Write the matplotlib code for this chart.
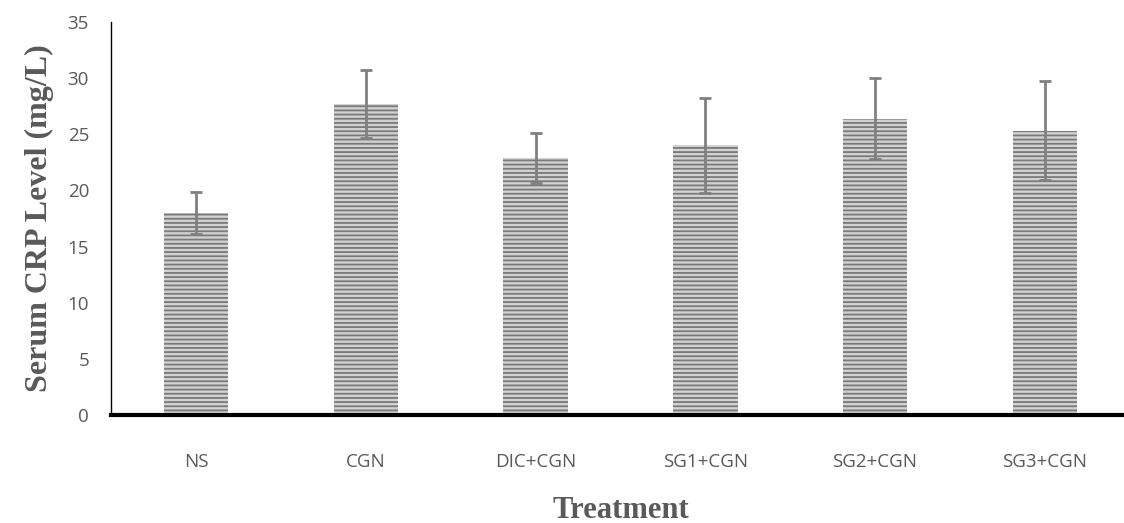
import matplotlib.pyplot as plt
import numpy as np

# values
groups = ['NS', 'CGN', 'DIC+CGN', 'SG1+CGN', 'SG2+CGN', 'SG3+CGN']
crp_mean = [18.0, 27.7, 22.9, 24.0, 26.4, 25.3]
crp_err = [1.9, 3.0, 2.2, 4.2, 3.6, 4.4]

plt.rcParams['hatch.linewidth'] = 1.3

fig = plt.figure(figsize=(11.24, 5.23), dpi=100)
ax = fig.add_axes([0.099, 0.2065, 0.906, 0.7515])

x = np.arange(len(groups))
ax.bar(x, crp_mean, width=0.38, color='#d2d2d2', hatch='----',
       edgecolor='#7a7a7a', linewidth=0)
ax.errorbar(x, crp_mean, yerr=crp_err, fmt='none', ecolor='#808080',
            elinewidth=2, capsize=4.3, capthick=2)

ax.set_xlim(-0.5, len(groups) - 0.5)
ax.set_ylim(0, 35)
ax.set_yticks(range(0, 36, 5))
ax.set_xticks(x)
ax.set_xticklabels(groups)

for s in ['top', 'right']:
    ax.spines[s].set_visible(False)
ax.spines['left'].set_linewidth(1)
ax.spines['bottom'].set_linewidth(3)
ax.tick_params(axis='both', length=0, labelsize=13.5, labelcolor='#595959')
ax.tick_params(axis='x', pad=27)
ax.tick_params(axis='y', pad=16)
for lab in ax.get_xticklabels() + ax.get_yticklabels():
    lab.set_family('Open Sans')

ax.set_xlabel('Treatment', fontsize=22, fontweight='bold', family='Liberation Serif',
              color='#595959', labelpad=18)
ax.set_ylabel('Serum CRP Level (mg/L)', fontsize=23, fontweight='bold',
              family='Liberation Serif', color='#595959', labelpad=10)

fig.savefig('out.png', dpi=100)
